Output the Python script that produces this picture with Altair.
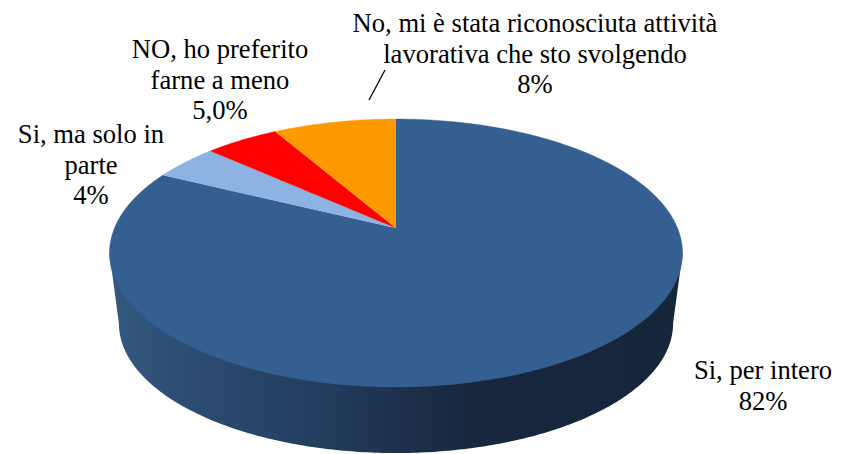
import numpy as np
import pandas as pd
import altair as alt

# --- chart values -------------------------------------------------------
categories = ["Si, per intero", "Si, ma solo in parte", "NO, ho preferito farne a meno",
              "No, mi è stata riconosciuta attività lavorativa che sto svolgendo"]
values = [82.3, 4.4, 5.0, 8.3]
colors = ["#365F91", "#8DB3E2", "#FF0000", "#FF9900"]
label_lines = ["Si, per intero\n82%", "Si, ma solo in\nparte\n4%",
               "NO, ho preferito\nfarne a meno\n5,0%",
               "No, mi è stata riconosciuta attività\nlavorativa che sto svolgendo\n8%"]
label_x = [763, 91, 220, 535]
label_y = [371, 135, 50, 24]
leader_x = [385, 369]
leader_y = [70, 100]

# --- perspective projection of the pie disc ------------------------------
CX, CY, A, B, K = 396.0, 228.0, 281.5, 129.3, 0.1866
BOTTOM_SCALE, WIDE_Y, BOTTOM_Y = 0.967, 253.0, 323.5


def project(theta):
    u, v = np.sin(theta), np.cos(theta)
    w = 1 + K * v
    return CX + A * u / w, CY - B * v / w


def project_bottom(theta):
    x, y = project(theta)
    return CX + BOTTOM_SCALE * (x - CX), BOTTOM_Y + BOTTOM_SCALE * (y - WIDE_Y)


# top-face polygons: start at 12 o'clock, clockwise, in data order
rows = []
start = 0.0
total = sum(values)
for name, val, col in zip(categories, values, colors):
    end = start + val / total * 2 * np.pi
    thetas = np.linspace(start, end, max(3, int(val * 4)))
    pts = [(CX, CY)] + [project(t) for t in thetas]
    for i, (x, y) in enumerate(pts):
        rows.append({"cat": name, "color": col, "i": i, "x": x, "y": y})
    start = end
top_df = pd.DataFrame(rows)

# side wall: front half of the lower rim, closed on the widest points of the top
t0 = np.arccos(-K)
front = np.linspace(t0, 2 * np.pi - t0, 240)
wall_pts = [project(2 * np.pi - t0)]
wall_pts += [project_bottom(t) for t in front[::-1]]
wall_pts += [project(t0)]
wall_df = pd.DataFrame([{"i": i, "x": p[0], "y": p[1]} for i, p in enumerate(wall_pts)])

# pixel-aligned scales (page margin is 8px)
W, H = 832, 446
xs = alt.Scale(domain=[8, 8 + W], nice=False, zero=False)
ys = alt.Scale(domain=[8 + H, 8], nice=False, zero=False)
X = lambda f="x": alt.X(f"{f}:Q", scale=xs, axis=None)
Y = lambda f="y": alt.Y(f"{f}:Q", scale=ys, axis=None)

gradient = alt.Gradient(
    gradient="linear", x1=0, x2=1, y1=0, y2=0,
    stops=[
        alt.GradientStop(offset=0.0, color="#34597F"),
        alt.GradientStop(offset=0.14, color="#2C4C72"),
        alt.GradientStop(offset=0.37, color="#233D5F"),
        alt.GradientStop(offset=0.52, color="#1C304B"),
        alt.GradientStop(offset=0.63, color="#17273E"),
        alt.GradientStop(offset=1.0, color="#15263B"),
    ],
)

wall = alt.Chart(wall_df).mark_line(filled=True, fill=gradient, strokeWidth=0, interpolate="linear").encode(
    x=X(), y=Y(), order="i:Q"
)

top = alt.Chart(top_df).mark_line(filled=True, strokeWidth=0.4, interpolate="linear").encode(
    x=X(), y=Y(), order="i:Q", detail="cat:N",
    fill=alt.Fill("color:N", scale=None),
    stroke=alt.Stroke("color:N", scale=None),
)

labels_df = pd.DataFrame({"text": label_lines, "x": label_x, "y": label_y})
labels = alt.Chart(labels_df).mark_text(
    font="Liberation Serif, Times New Roman, serif", fontSize=26.6, lineBreak="\n", lineHeight=30.5,
    align="center", baseline="middle", color="#000000",
).encode(x=X(), y=Y(), text="text:N")

leader = alt.Chart(pd.DataFrame({"x": leader_x, "y": leader_y, "i": [0, 1]})).mark_line(
    color="#000000", strokeWidth=1.3
).encode(x=X(), y=Y(), order="i:Q")

chart = (
    alt.layer(wall, top, leader, labels)
    .properties(width=W, height=H, padding=0, autosize=alt.AutoSizeParams(type="none"), background="#FFFFFF")
    .configure_view(stroke=None)
)

chart.save("out.html", embed_options={"renderer": "svg", "actions": False})
